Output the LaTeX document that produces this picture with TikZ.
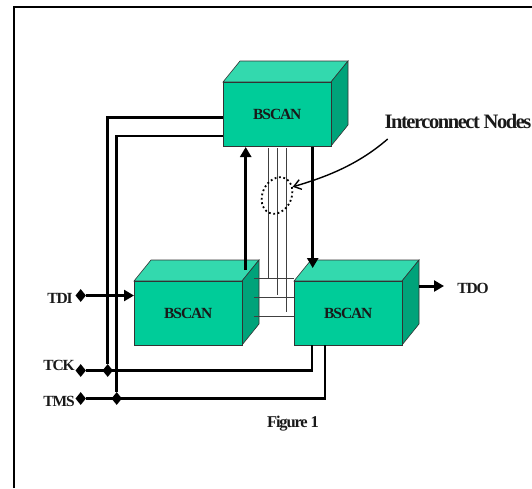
\documentclass[tikz,border=0pt]{standalone}
\usepackage{fontspec}
\setmainfont{Liberation Serif}
\newfontfamily\lblfont[LetterSpace=-7]{Liberation Serif}
\usetikzlibrary{arrows.meta,positioning,shapes.geometric}
\definecolor{boxfront}{HTML}{00CC99}
\definecolor{boxtop}{HTML}{33D9AE}
\definecolor{boxside}{HTML}{00A37A}
\tikzset{
	wire/.style={line width=2.5pt,black},
	thinwire/.style={line width=0.6pt,black!75},
	sigarrow/.style={wire,line width=3pt,-{Triangle[length=10pt,width=11pt]}},
	lbl/.style={font=\lblfont\bfseries\fontsize{15.5}{15.5}\selectfont,inner sep=0pt,text=black!90},
	pin/.style={diamond,fill=black,inner sep=0pt,aspect=0.72,minimum width=10.5pt,minimum height=13pt},
}
% box with its front corner at #1, named #2
\newcommand{\bscanbox}[2]{
	\fill[boxtop,draw=black!80,line width=0.6pt] (#1) -- ++(17,-21) -- ++(108,0) -- ++(-17,21) -- cycle;
	\fill[boxside,draw=black!80,line width=0.6pt] (#1) ++(108,0) -- ++(17,-21) -- ++(0,64) -- ++(-17,21) -- cycle;
	\node[draw=black!80,fill=boxfront,line width=0.6pt,anchor=north west,minimum width=108pt,minimum height=64pt,inner sep=0pt,font=\lblfont\bfseries\fontsize{15.5}{15.5}\selectfont,text=black!90] (#2) at (#1) {BSCAN};
}
\begin{document}
\begin{tikzpicture}[x=1pt,y=-1pt]
	\useasboundingbox (0,0) rectangle (532,488);
	\draw[line width=2pt] (14,488) -- (14,7) -- (532,7);

	% vertical interconnect, behind the boxes
	\draw[thinwire] (268.3,148) -- (268.3,278.7);
	\draw[thinwire] (277.3,148) -- (277.3,295);
	\draw[thinwire] (286.7,148) -- (286.7,312);

	\bscanbox{223,82}{top}
	\bscanbox{134,281}{left}
	\bscanbox{294,281}{right}

	% horizontal interconnect
	\draw[thinwire] (254,278.7) -- (294,278.7);
	\draw[thinwire] (254,297.7) -- (294,297.7);
	\draw[thinwire] (254,316.3) -- (294,316.3);

	\draw[sigarrow] (245.7,270) -- (245.7,147);
	\draw[sigarrow] (312.7,147) -- (312.7,268);
	\draw[sigarrow] (419,286) -- (444,286);

	\node[lbl] (tdi) at (60,298) {TDI};
	\node[lbl] (tck) at (59,365.5) {TCK};
	\node[lbl] (tms) at (59,401.5) {TMS};
	\node[lbl] (tdo) at (473,288) {TDO};
	\node[pin] (tdipin) at (80.7,295.5) {};
	\node[pin] (tckpin) at (80.7,370.5) {};
	\node[pin] (tmspin) at (80.7,398.5) {};
	\draw[sigarrow] (tdipin) -- (left.west |- tdipin);

	\coordinate (tckend) at (312,345);
	\coordinate (tmsend) at (325,345);
	\draw[wire] (tckpin) -- (tckend |- tckpin) -- (tckend);
	\draw[wire] (tmspin) -- (tmsend |- tmspin) -- (tmsend);

	\node[pin] (tckdot) at (107.7,370.5) {};
	\node[pin] (tmsdot) at (116.7,398.5) {};
	\draw[wire] (tckdot) -- (107.7,117.5) -- (top.west |- 0,117.5);
	\draw[wire] (tmsdot) -- (116.7,136) -- (top.west |- 0,136);

	\node[lbl,font=\lblfont\bfseries\fontsize{20.5}{20.5}\selectfont] (inodes) at (458,121) {Interconnect Nodes};
	\node[draw,line width=1.8pt,dash pattern=on 1.8pt off 2.6pt,ellipse,rotate=-25,minimum width=29pt,minimum height=38pt,inner sep=0pt] (cloud) at (277,195.5) {};
	\draw[line width=1.4pt,-{Straight Barb[length=7pt,width=10pt]}] (387.7,139) .. controls (360,163) and (330,176) .. (cloud.54);

	\node[lbl,font=\lblfont\bfseries\fontsize{16.5}{16.5}\selectfont] (figure) at (293,423.5) {Figure 1};
\end{tikzpicture}
\end{document}
